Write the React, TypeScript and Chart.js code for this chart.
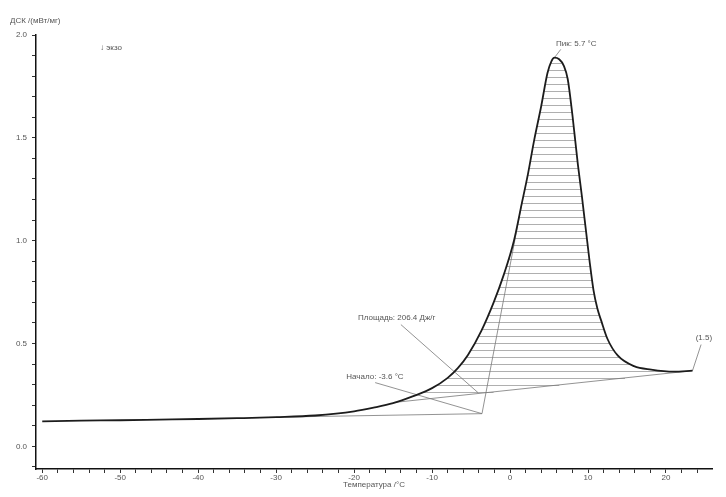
import React, { useEffect, useRef } from "react";
import { Chart, registerables } from "chart.js";
Chart.register(...registerables);

// ---- data ----
const temperatures = [
  -60, -55, -50, -45, -40, -35, -30, -25, -20, -17.5, -15, -12.5, -10, -8, -6.7, -5.4, -3.7, -2.1, -0.8,
  0.5, 1.5, 2.3, 3.1, 4.0, 4.8, 5.3, 5.7, 6.3, 6.9, 7.4, 8.0, 8.7, 9.2, 9.7, 10.2, 10.7, 11.2, 11.7,
  12.5, 13.8, 15.9, 18.1, 21.0, 23.4,
];
const dscValues = [
  0.122, 0.125, 0.127, 0.13, 0.133, 0.137, 0.142, 0.15, 0.17, 0.188, 0.21, 0.243, 0.283, 0.333, 0.38, 0.444,
  0.56, 0.7, 0.835, 1.0, 1.18, 1.325, 1.49, 1.655, 1.815, 1.872, 1.89, 1.882, 1.85, 1.785, 1.61, 1.37, 1.22,
  1.06, 0.9, 0.76, 0.67, 0.61, 0.522, 0.442, 0.39, 0.373, 0.363, 0.368,
];
const onsetTemp = -3.6;
const onsetValue = 0.159;
const peakTemp = 5.7;
const peakValue = 1.89;
const areaJg = 206.4;
const preBaselineX = [-30, onsetTemp];
const preBaselineY = [0.142, onsetValue];
const tangentX = [onsetTemp, 1.5];
const tangentY = [onsetValue, 1.18];
const integrationX = [-15, 23.4];
const integrationY = [0.213, 0.368];
const endTemp = 23.4;
const endValue = 0.368;
const endLabel = "(1.5)";

const xMin = -60.8;
const xMax = 25.9;
const yMin = -0.11;
const yMax = 2.0;

const TEXT = "#555";
const FONT = '8px "Liberation Sans", Arial, sans-serif';

const toPts = (xs: number[], ys: number[]) => xs.map((x, i) => ({ x, y: ys[i] }));

function crossing(level: number, side: "left" | "right"): number | null {
  let pk = 0;
  dscValues.forEach((v, i) => { if (v > dscValues[pk]) pk = i; });
  if (side === "left") {
    for (let i = pk; i > 0; i--) {
      const a = dscValues[i - 1], b = dscValues[i];
      if (a <= level && b >= level) {
        return temperatures[i - 1] + ((level - a) / (b - a)) * (temperatures[i] - temperatures[i - 1]);
      }
    }
  } else {
    for (let i = pk; i < dscValues.length - 1; i++) {
      const a = dscValues[i], b = dscValues[i + 1];
      if (a >= level && b <= level) {
        return temperatures[i] + ((a - level) / (a - b)) * (temperatures[i + 1] - temperatures[i]);
      }
    }
  }
  return null;
}

const hatchPlugin = {
  id: "hatch",
  beforeDatasetsDraw(chart: any) {
    const { ctx, scales } = chart;
    const xs = scales.x, ys = scales.y;
    const slope = (integrationY[1] - integrationY[0]) / (integrationX[1] - integrationX[0]);
    ctx.save();
    ctx.strokeStyle = "rgba(110,110,110,0.55)";
    ctx.lineWidth = 1;
    const bottomPx = ys.getPixelForValue(0.265);
    const topPx = ys.getPixelForValue(peakValue);
    for (let py = bottomPx; py > topPx + 2; py -= 7) {
      const level = ys.getValueForPixel(py);
      const left = crossing(level, "left");
      if (left === null) continue;
      const rc = crossing(level, "right");
      const right0 = rc === null ? endTemp : rc;
      const vb = integrationX[0] + (level - integrationY[0]) / slope;
      const right = Math.min(right0, vb);
      if (right <= left) continue;
      const y = Math.round(py) + 0.5;
      ctx.beginPath();
      ctx.moveTo(xs.getPixelForValue(left), y);
      ctx.lineTo(xs.getPixelForValue(right), y);
      ctx.stroke();
    }
    ctx.restore();
  },
};

const textPlugin = {
  id: "texts",
  afterDatasetsDraw(chart: any) {
    const { ctx, scales, chartArea } = chart;
    const xs = scales.x, ys = scales.y;
    const X = (v: number) => xs.getPixelForValue(v);
    const Y = (v: number) => ys.getPixelForValue(v);
    ctx.save();
    ctx.font = FONT;
    ctx.fillStyle = TEXT;
    ctx.textBaseline = "middle";
    ctx.textAlign = "left";
    ctx.fillText("ДСК /(мВт/мг)", chartArea.left - 26, chartArea.top - 14);
    ctx.fillText("↓ экзо", chartArea.left + 64, chartArea.top + 13);
    ctx.fillText(`Пик: ${peakTemp} °C`, X(5.9), Y(1.957));
    ctx.fillText(`Площадь: ${areaJg} Дж/г`, X(-19.5), Y(0.625));
    ctx.fillText(`Начало: ${onsetTemp} °C`, X(-21.0), Y(0.339));
    ctx.fillText(endLabel, X(23.8), Y(0.528));
    ctx.restore();
  },
};

export default function App() {
  const ref = useRef<HTMLCanvasElement>(null);
  useEffect(() => {
    if (!ref.current) return;
    Chart.defaults.font.family = '"Liberation Sans", Arial, sans-serif';
    const thin = (data: any[], color = "rgba(120,120,120,0.8)") => ({
      data,
      showLine: true,
      borderColor: color,
      borderWidth: 1,
      pointRadius: 0,
      fill: false,
      order: 2,
    });
    const chart = new Chart(ref.current, {
      type: "scatter",
      data: {
        datasets: [
          {
            data: toPts(temperatures, dscValues),
            showLine: true,
            borderColor: "#1c1c1c",
            borderWidth: 1.8,
            pointRadius: 0,
            cubicInterpolationMode: "monotone",
            order: 0,
          } as any,
          thin(toPts(preBaselineX, preBaselineY)),
          thin(toPts(tangentX, tangentY)),
          thin(toPts(integrationX, integrationY)),
          thin([{ x: -17.3, y: 0.31 }, { x: onsetTemp, y: onsetValue }]),
          thin([{ x: -14.0, y: 0.592 }, { x: -4.1, y: 0.261 }]),
          thin([{ x: peakTemp, y: peakValue }, { x: 6.5, y: 1.93 }]),
          thin([{ x: endTemp, y: endValue }, { x: 24.5, y: 0.495 }]),
        ],
      },
      options: {
        animation: false,
        responsive: false,
        devicePixelRatio: 1,
        layout: { padding: { top: 35, right: 14, left: 0, bottom: 0 } },
        plugins: { legend: { display: false }, tooltip: { enabled: false }, title: { display: false } },
        scales: {
          x: {
            type: "linear",
            min: xMin,
            max: xMax,
            afterBuildTicks: (s: any) => {
              const t = [];
              for (let v = -60; v <= 24; v += 2) t.push({ value: v });
              s.ticks = t;
            },
            afterFit: (s: any) => { s.height = 28; },
            ticks: {
              autoSkip: false,
              maxRotation: 0,
              padding: 0,
              color: TEXT,
              font: { size: 8 },
              callback: (v: any) => (Math.round(v) % 10 === 0 ? String(v) : ""),
            },
            grid: { drawOnChartArea: false, drawTicks: true, tickLength: 4, color: "#333" },
            border: { display: true, color: "#111", width: 1.5 },
            title: { display: true, text: "Температура /°C", color: TEXT, font: { size: 8 }, padding: { top: 0, bottom: 7 } },
          },
          y: {
            type: "linear",
            min: yMin,
            max: yMax,
            afterBuildTicks: (s: any) => {
              const t = [];
              for (let k = -1; k <= 20; k++) t.push({ value: k / 10 });
              s.ticks = t;
            },
            afterFit: (s: any) => { s.width = 36; },
            ticks: {
              autoSkip: false,
              padding: 5,
              color: TEXT,
              font: { size: 8 },
              callback: (v: any) => (Math.abs(v * 2 - Math.round(v * 2)) < 1e-6 ? Number(v).toFixed(1) : ""),
            },
            grid: { drawOnChartArea: false, drawTicks: true, tickLength: 4, color: "#333" },
            border: { display: true, color: "#111", width: 1.5 },
          },
        },
      } as any,
      plugins: [hatchPlugin, textPlugin],
    });
    return () => chart.destroy();
  }, []);
  return (
    <div style={{ position: "fixed", left: 0, top: 0, width: 726, height: 497, background: "#fff" }}>
      <canvas ref={ref} width={726} height={497} />
    </div>
  );
}
